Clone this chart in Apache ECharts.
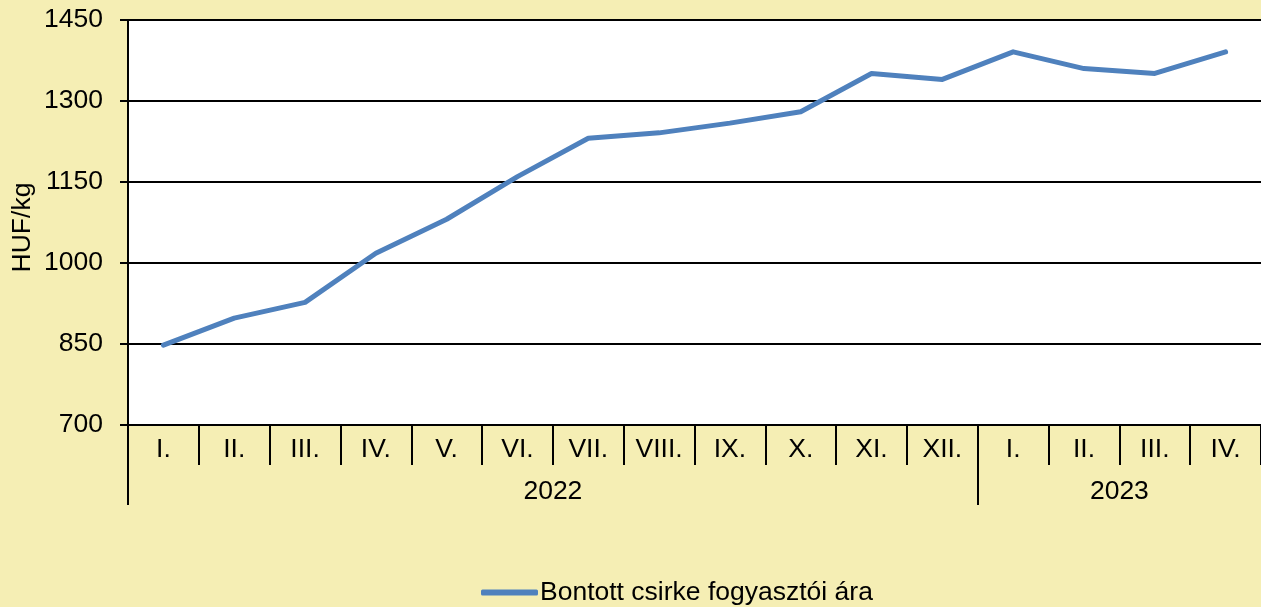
<!DOCTYPE html>
<html lang="hu">
<head>
    <meta charset="UTF-8">
    <title>Bontott csirke fogyasztói ára</title>
    <script src="https://cdn.jsdelivr.net/npm/echarts@6/dist/echarts.min.js"></script>
    <style>
        html, body { margin: 0; padding: 0; background: #F5EEB4; }
        #chart { width: 1261px; height: 607px; }
    </style>
</head>
<body>
    <div id="chart"></div>
    <script>
        // adatok
        const months = ['I.', 'II.', 'III.', 'IV.', 'V.', 'VI.', 'VII.', 'VIII.', 'IX.', 'X.', 'XI.', 'XII.', 'I.', 'II.', 'III.', 'IV.'];
        // évek: címke a csoport közepén, elválasztó a csoport határán
        const yearSlots = ['', '', '', '', '', '', '2022', '', '', '', '', '', '', '', '2023', '', ''];
        const yearBounds = [0, 12];
        const prices = [848, 898, 927, 1018, 1081, 1160, 1231, 1241, 1259, 1280, 1351, 1340, 1391, 1360, 1351, 1391];
        const seriesName = 'Bontott csirke fogyasztói ára';

        const font = { fontFamily: 'Liberation Sans, Arial, sans-serif', fontSize: 26.5, color: '#000' };
        const black = { color: '#000', width: 2 };

        const chart = echarts.init(document.getElementById('chart'));
        chart.setOption({
            backgroundColor: '#F5EEB4',
            textStyle: font,
            grid: {
                left: 128, top: 20, right: 0, bottom: 182,
                outerBoundsMode: 'none', containLabel: false,
                show: true, backgroundColor: '#fff', borderWidth: 0
            },
            legend: {
                left: 476, top: 574,
                icon: 'roundRect',
                itemWidth: 57, itemHeight: 6, itemGap: 10,
                textStyle: { ...font, padding: [0, 0, 0, -3] },
                data: [seriesName]
            },
            xAxis: [{
                type: 'category',
                data: months,
                boundaryGap: true,
                axisLine: { lineStyle: black },
                axisTick: { show: true, interval: 0, length: 40, lineStyle: black },
                axisLabel: { ...font, interval: 0, margin: 11 }
            }, {
                type: 'category',
                data: yearSlots,
                position: 'bottom',
                offset: 40,
                boundaryGap: false,
                axisLine: { show: false },
                axisTick: { show: true, interval: (i) => yearBounds.includes(i), length: 40, lineStyle: black },
                axisLabel: { ...font, interval: 0, margin: 13 }
            }],
            yAxis: {
                type: 'value',
                min: 700, max: 1450, interval: 150,
                name: 'HUF/kg',
                nameLocation: 'middle',
                nameGap: 92,
                nameMoveOverlap: false,
                nameTextStyle: { ...font, padding: [0, 10, 0, 0] },
                axisLine: { show: true, lineStyle: black },
                axisTick: { show: true, length: 8, lineStyle: black },
                axisLabel: { ...font, margin: 25, formatter: (v) => String(v) },
                splitLine: { lineStyle: black }
            },
            series: [{
                name: seriesName,
                type: 'line',
                data: prices,
                symbol: 'none',
                lineStyle: { color: '#4F81BD', width: 5, cap: 'round', join: 'round' },
                itemStyle: { color: '#4F81BD' }
            }]
        });
    </script>
</body>
</html>
